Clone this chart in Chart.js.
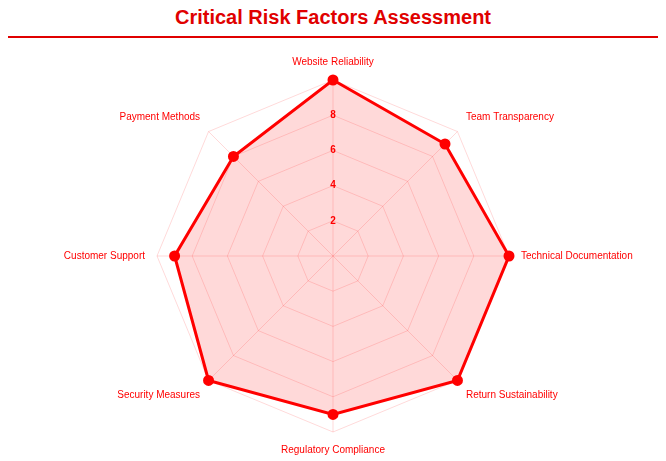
<!DOCTYPE html>
<html>
<head>
<meta charset="utf-8">
<script src="https://cdn.jsdelivr.net/npm/chart.js@4"></script>
<style>
    body { margin: 0; font-family: Arial, "Liberation Sans", sans-serif; background: #fff; }
    h1 { margin: 6px 8px 0; padding-bottom: 7px; text-align: center; color: #e00000; font-size: 20px; border-bottom: 2px solid #e00000; }
    .chart-box { position: relative; width: 666px; height: 418px; }
</style>
</head>
<body>
<h1>Critical Risk Factors Assessment</h1>
<div class="chart-box"><canvas id="riskChart"></canvas></div>
<script>
// Chart data
const categories = ['Website Reliability', 'Team Transparency', 'Technical Documentation', 'Return Sustainability',
    'Regulatory Compliance', 'Security Measures', 'Customer Support', 'Payment Methods'];
const riskScores = [10, 9, 10, 10, 9, 10, 9, 8];
const tickValues = [2, 4, 6, 8];

new Chart(document.getElementById('riskChart'), {
    type: 'radar',
    data: {
        labels: categories,
        datasets: [{
            label: 'Risk',
            data: riskScores,
            borderColor: '#ff0000',
            backgroundColor: 'rgba(255, 0, 0, 0.15)',
            borderWidth: 3,
            pointBackgroundColor: '#ff0000',
            pointBorderColor: '#ff0000',
            pointRadius: 4
        }]
    },
    options: {
        responsive: true,
        maintainAspectRatio: false,
        animation: false,
        layout: { padding: { top: 18, bottom: 0 } },
        plugins: { legend: { display: false }, tooltip: { enabled: false } },
        scales: {
            r: {
                min: 0,
                max: 10,
                ticks: {
                    stepSize: 2,
                    color: '#ff0000',
                    showLabelBackdrop: false,
                    font: { size: 10, weight: 'bold' },
                    callback: v => tickValues.includes(v) ? v : ''
                },
                grid: { color: 'rgba(255, 0, 0, 0.15)' },
                angleLines: { color: 'rgba(255, 0, 0, 0.15)' },
                pointLabels: { color: '#ff0000', font: { size: 10 } }
            }
        }
    }
});
</script>
</body>
</html>
